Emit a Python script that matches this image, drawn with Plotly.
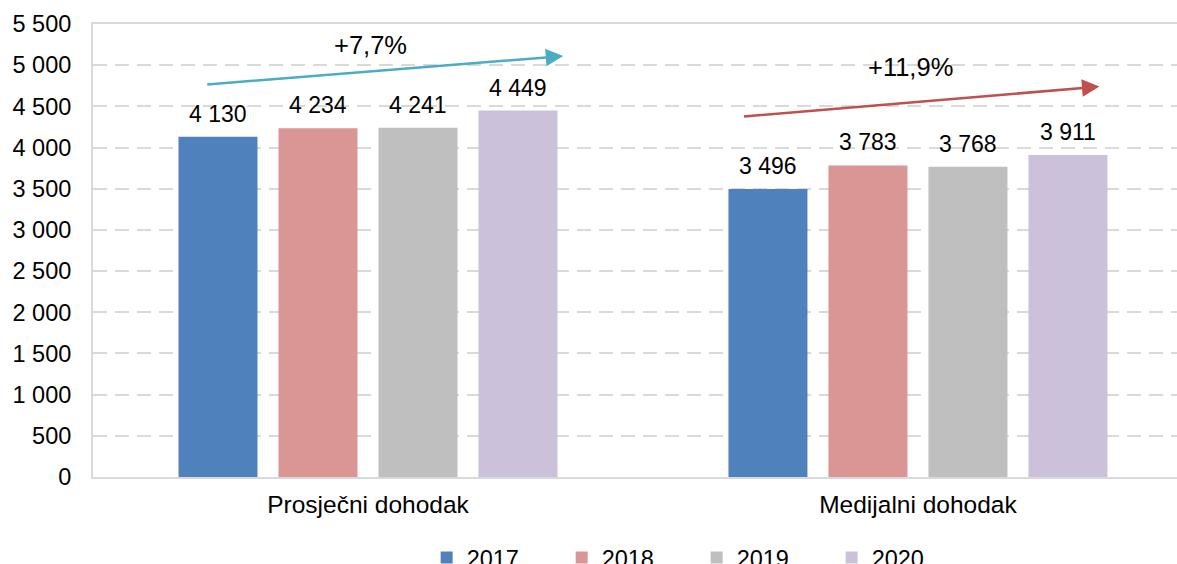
import plotly.graph_objects as go

categories = ["Prosječni dohodak", "Medijalni dohodak"]
years = ["2017", "2018", "2019", "2020"]
values = {
    "2017": [4130, 3496],
    "2018": [4234, 3783],
    "2019": [4241, 3768],
    "2020": [4449, 3911],
}
colors = {"2017": "#4F81BD", "2018": "#D99694", "2019": "#BFBFBF", "2020": "#CCC1DA"}
y_ticks = list(range(0, 5501, 500))
growth_labels = ["+7,7%", "+11,9%"]

FONT = "Liberation Sans, Arial, sans-serif"
BARGAP = 0.2727
BARGROUPGAP = 0.21

fig = go.Figure()
for yr in years:
    fig.add_trace(go.Bar(
        name=yr, x=categories, y=values[yr],
        marker=dict(color=colors[yr], line=dict(width=0)),
        hoverinfo="x+y+name",
    ))

# value labels placed above each bar (slot offsets follow the group layout)
slot = (1 - BARGAP) / len(years)
for j, yr in enumerate(years):
    for ci, v in enumerate(values[yr]):
        fig.add_annotation(
            x=ci + (j - (len(years) - 1) / 2) * slot, y=v, xref="x", yref="y",
            text=f"{v:,}".replace(",", " "), showarrow=False,
            yanchor="bottom", yshift=8,
            font=dict(size=23, family=FONT, color="#000000"),
        )

grid = "#D9D9D9"
fig.update_layout(
    width=1177, height=564,
    separators=", ",
    barmode="group", bargap=BARGAP, bargroupgap=BARGROUPGAP,
    plot_bgcolor="white", paper_bgcolor="white",
    margin=dict(l=93, r=0, t=24, b=87, autoexpand=False),
    font=dict(family=FONT, size=23, color="#000000"),
    xaxis=dict(
        type="category", range=[-0.5, 1.471],
        showline=True, linecolor=grid, linewidth=2, mirror=True,
        showgrid=False, ticks="", ticklabelstandoff=5,
        tickfont=dict(size=24.5, family=FONT, color="#000000"),
    ),
    yaxis=dict(
        range=[0, 5500], tickvals=y_ticks, tickformat=",",
        showline=True, linecolor=grid, linewidth=2,
        showgrid=True, gridcolor=grid, gridwidth=2, griddash="14px,8px",
        zeroline=False, ticks="", ticklabelstandoff=15,
        tickfont=dict(size=23.5, family=FONT, color="#000000"),
    ),
    legend=dict(
        orientation="h", xref="container", yref="container",
        x=0.3625, xanchor="left", y=0.011, yanchor="middle",
        entrywidth=90, entrywidthmode="pixels",
        font=dict(size=23.5, family=FONT, color="#000000"),
        traceorder="normal",
    ),
    showlegend=True,
)

# growth arrows
fig.add_annotation(x=0.355, y=5110, ax=-0.295, ay=4764, xref="x", yref="y",
                   axref="x", ayref="y", showarrow=True, arrowhead=2,
                   arrowsize=1.4, arrowwidth=2.5, arrowcolor="#4BACC6", text="")
fig.add_annotation(x=1.330, y=4740, ax=0.681, ay=4375, xref="x", yref="y",
                   axref="x", ayref="y", showarrow=True, arrowhead=2,
                   arrowsize=1.4, arrowwidth=2.5, arrowcolor="#C0504D", text="")
fig.add_annotation(x=0.005, y=5247, xref="x", yref="y", text=growth_labels[0],
                   showarrow=False, font=dict(size=25.5, family=FONT, color="#000000"))
fig.add_annotation(x=0.986, y=4980, xref="x", yref="y", text=growth_labels[1],
                   showarrow=False, font=dict(size=25.5, family=FONT, color="#000000"))

fig.write_html("out.html", config={"displayModeBar": False},
               post_script="document.body.style.margin='0';")
